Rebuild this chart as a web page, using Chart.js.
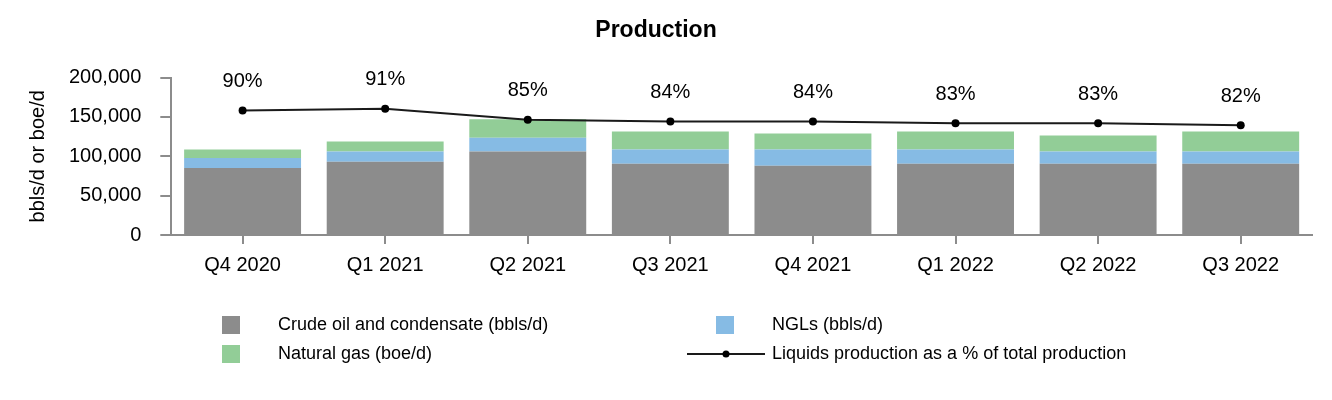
<!DOCTYPE html>
<html lang="en">
<head>
  <meta charset="UTF-8">
  <title>Production</title>
  <script src="https://cdn.jsdelivr.net/npm/chart.js"></script>
  <style>
    html, body { margin: 0; padding: 0; background: #fff; }
    #wrap { width: 1332px; height: 400px; }
  </style>
</head>
<body>
<div id="wrap">
  <canvas id="prodChart"></canvas>
</div>

<script>
  // quarterly production data
  const quarters = ['Q4 2020', 'Q1 2021', 'Q2 2021', 'Q3 2021', 'Q4 2021', 'Q1 2022', 'Q2 2022', 'Q3 2022'];
  const crudeOil = [85000, 93000, 106000, 90500, 88000, 90500, 90500, 90500];
  const ngls = [12800, 13000, 17500, 18000, 20500, 18000, 15500, 15500];
  const naturalGas = [10700, 12800, 23500, 23000, 20500, 23000, 20500, 25500];
  const liquidsPct = [90, 91, 85, 84, 84, 83, 83, 82];
  const yTicks = [0, 50000, 100000, 150000, 200000];

  const FONT = '"Liberation Sans", Arial, sans-serif';
  Chart.defaults.font.family = FONT;
  Chart.defaults.color = '#000';

  // % labels above the line points
  const pctLabels = {
    id: 'pctLabels',
    afterDatasetsDraw(chart) {
      const meta = chart.getDatasetMeta(3);
      const ctx = chart.ctx;
      ctx.save();
      ctx.font = '20px ' + FONT;
      ctx.fillStyle = '#000';
      ctx.textAlign = 'center';
      ctx.textBaseline = 'middle';
      meta.data.forEach((pt, i) => {
        ctx.fillText(liquidsPct[i] + '%', pt.x, pt.y - 29);
      });
      ctx.restore();
    }
  };

  // two column legend under the axis
  const gridLegend = {
    id: 'gridLegend',
    afterDraw(chart) {
      const ctx = chart.ctx;
      const cols = [222, 716];
      const rows = [325, 354];
      ctx.save();
      ctx.font = '18px ' + FONT;
      ctx.textBaseline = 'middle';
      chart.data.datasets.forEach((ds, i) => {
        const x = cols[i % 2];
        const y = rows[Math.floor(i / 2)];
        if (ds.type === 'line') {
          ctx.strokeStyle = ds.borderColor;
          ctx.lineWidth = 2;
          ctx.beginPath();
          ctx.moveTo(x - 29, y);
          ctx.lineTo(x + 49, y);
          ctx.stroke();
          ctx.fillStyle = ds.pointBackgroundColor;
          ctx.beginPath();
          ctx.arc(x + 10, y, 3.5, 0, Math.PI * 2);
          ctx.fill();
        } else {
          ctx.fillStyle = ds.backgroundColor;
          ctx.fillRect(x, y - 9, 18, 18);
        }
        ctx.fillStyle = '#000';
        ctx.fillText(ds.label, x + 56, y);
      });
      ctx.restore();
    }
  };

  const ctx = document.getElementById('prodChart').getContext('2d');
  const prodChart = new Chart(ctx, {
    type: 'bar',
    data: {
      labels: quarters,
      datasets: [
        { label: 'Crude oil and condensate (bbls/d)', data: crudeOil, backgroundColor: '#8c8c8c', stack: 'prod', order: 1 },
        { label: 'NGLs (bbls/d)', data: ngls, backgroundColor: '#86bbe4', stack: 'prod', order: 1 },
        { label: 'Natural gas (boe/d)', data: naturalGas, backgroundColor: '#92cd97', stack: 'prod', order: 1 },
        {
          type: 'line',
          label: 'Liquids production as a % of total production',
          data: liquidsPct,
          yAxisID: 'y1',
          borderColor: '#1a1a1a',
          borderWidth: 2,
          pointRadius: 4,
          pointBackgroundColor: '#000',
          pointBorderWidth: 0,
          tension: 0,
          order: 0
        }
      ]
    },
    options: {
      responsive: true,
      maintainAspectRatio: false,
      animation: false,
      datasets: { bar: { categoryPercentage: 1, barPercentage: 0.82 } },
      layout: { padding: { left: 0, right: 20, top: 0, bottom: 114 } },
      plugins: {
        legend: { display: false },
        tooltip: { enabled: false },
        title: {
          display: true,
          text: 'Production',
          color: '#000',
          font: { size: 23, weight: 'bold' },
          padding: { top: 17, bottom: 33 }
        }
      },
      scales: {
        x: {
          stacked: true,
          grid: { display: true, offset: false, drawOnChartArea: false, tickLength: 9, color: '#8c8c8c', lineWidth: 2 },
          border: { color: '#8c8c8c', width: 2 },
          ticks: { font: { size: 20 }, padding: 9, color: '#000' }
        },
        y: {
          stacked: true,
          min: 0,
          max: 200000,
          afterBuildTicks: s => { s.ticks = yTicks.map(v => ({ value: v })); },
          grid: { drawOnChartArea: false, tickLength: 11, color: '#8c8c8c', lineWidth: 2 },
          border: { color: '#8c8c8c', width: 2 },
          ticks: { font: { size: 20 }, padding: 19, color: '#000' },
          title: {
            display: true,
            text: 'bbls/d or boe/d',
            font: { size: 20 },
            color: '#000',
            padding: { top: 26, bottom: 0 }
          }
        },
        y1: {
          display: false,
          min: 22,
          max: 108
        }
      }
    },
    plugins: [pctLabels, gridLegend]
  });
</script>
</body>
</html>
